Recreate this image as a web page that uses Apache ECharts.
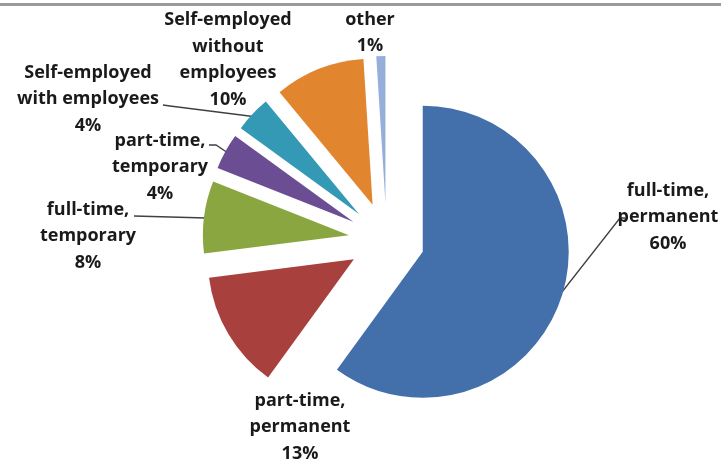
<!DOCTYPE html>
<html>
<head>
<meta charset="utf-8">
<script src="https://cdn.jsdelivr.net/npm/echarts@6/dist/echarts.min.js"></script>
<style>
  html, body { margin: 0; padding: 0; background: #fff; }
  #chart { width: 721px; height: 465px; }
</style>
</head>
<body>
<div id="chart"></div>
<script>
const categories = [
  "full-time,\npermanent",
  "part-time,\npermanent",
  "full-time,\ntemporary",
  "part-time,\ntemporary",
  "Self-employed\nwith employees",
  "Self-employed\nwithout\nemployees",
  "other"
];
const shares = [60, 13, 8, 4, 4, 10, 1];
const colors = ["#4370aa", "#a8413d", "#8aa640", "#6b4d93", "#3399b5", "#e1852f", "#96afda"];

// pie geometry: every slice is pulled out from the centre
const pieCenter = [386.6, 240];
const pieRadius = 146;
const explode = 38;

// label placement (centre of each text block) and leader lines
const labelPos = [
  [668, 217], [300, 427], [88, 236], [160, 167], [88, 99], [228, 60], [370, 33]
];
const leaders = {
  0: [[562, 292], [620, 218], [625, 218]],
  2: [[206, 218], [170, 217], [134, 216]],
  3: [[228, 153], [216, 145], [209, 145]],
  4: [[257, 117], [170, 106], [163, 105]]
};

const total = shares.reduce((a, b) => a + b, 0);

// one pie series per slice so each can be shifted along its own mid angle
const series = categories.map((_, k) => {
  const before = shares.slice(0, k).reduce((a, b) => a + b, 0);
  const mid = (before + shares[k] / 2) / total * 2 * Math.PI;
  const c = [
    pieCenter[0] + explode * Math.sin(mid),
    pieCenter[1] - explode * Math.cos(mid)
  ];
  return {
    type: "pie",
    center: c,
    radius: pieRadius,
    startAngle: 90,
    clockwise: true,
    silent: true,
    avoidLabelOverlap: false,
    emphasis: { disabled: true },
    label: {
      show: false,
      formatter: "{b}\n{c}%",
      color: "#1a1a1a",
      fontFamily: "Open Sans",
      fontWeight: "bold",
      fontSize: 18,
      lineHeight: 26.5,
      align: "center"
    },
    labelLine: {
      show: false,
      lineStyle: { color: "#404040", width: 1.3 }
    },
    labelLayout: function (p) {
      if (p.dataIndex !== k) return {};
      const pos = labelPos[k];
      const out = { x: pos[0], y: pos[1], align: "center", verticalAlign: "middle" };
      if (leaders[k]) out.labelLinePoints = leaders[k];
      return out;
    },
    data: categories.map((name, i) => ({
      name: name,
      value: shares[i],
      itemStyle: { color: i === k ? colors[i] : "rgba(0,0,0,0)" },
      label: { show: i === k },
      labelLine: { show: i === k && !!leaders[i] }
    }))
  };
});

const chart = echarts.init(document.getElementById("chart"));

chart.setOption({
  animation: false,
  graphic: [{
    type: "rect",
    shape: { x: 0, y: 3, width: 721, height: 3 },
    style: { fill: "#9a9a9a" },
    silent: true
  }],
  series: series
});
</script>
</body>
</html>
